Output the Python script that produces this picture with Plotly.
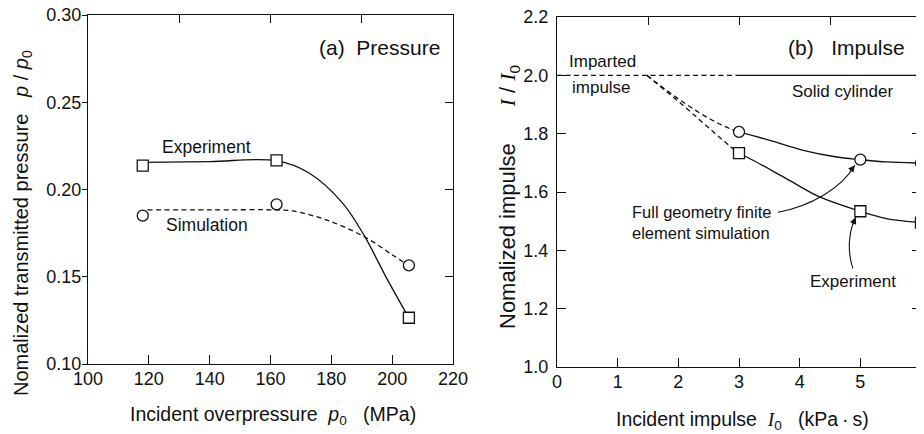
import plotly.graph_objects as go

# ---------------- data: panel (a) pressure ----------------
p0_points = [118, 162, 205.5]
exp_pressure = [0.2137, 0.2167, 0.1265]
sim_pressure = [0.185, 0.1915, 0.1565]

exp_fit_x = [118, 140, 162, 172.8, 183.7, 191.1, 197.9, 205.3]
exp_fit_y = [0.2155, 0.2160, 0.2165, 0.2093, 0.1922, 0.1727, 0.1501, 0.1270]
sim_fit_x = [119.5, 140, 162, 167.2, 178.3, 191.1, 200.1, 205.3]
sim_fit_y = [0.1883, 0.1883, 0.1883, 0.1877, 0.1826, 0.1727, 0.1625, 0.1566]

# ---------------- data: panel (b) impulse ----------------
i0_points = [3, 5, 6]
sim_impulse = [1.806, 1.711, 1.699]
exp_impulse = [1.733, 1.534, 1.495]

imparted_x = [0, 3]
imparted_y = [2.0, 2.0]
solid_x = [3, 6]
solid_y = [2.0, 2.0]

sim_dash_x = [1.48, 2.1, 2.5, 2.85, 3.0]
sim_dash_y = [2.0, 1.905, 1.853, 1.817, 1.806]
exp_dash_x = [1.48, 2.1, 2.5, 2.85, 3.0]
exp_dash_y = [2.0, 1.893, 1.82, 1.757, 1.733]

sim_solid_x = [3, 3.51, 4.06, 4.61, 5, 5.43, 6]
sim_solid_y = [1.806, 1.777, 1.743, 1.720, 1.711, 1.703, 1.699]
exp_solid_x = [3, 3.23, 3.78, 4.33, 5, 5.43, 6]
exp_solid_y = [1.733, 1.709, 1.646, 1.583, 1.534, 1.509, 1.495]

FONT = "Liberation Sans, Arial, sans-serif"
BLACK = "#111111"

# the page body has an 8 px margin, so the figure is sized to fill the rest of the window
OX, OY = 8, 8
W, H = 924 - OX, 434 - OY


def px(sx):
    return (sx - OX) / W


def py(sy):
    return 1 - (sy - OY) / H


fig = go.Figure()

line_solid = dict(color=BLACK, width=1.3)
line_dash = dict(color=BLACK, width=1.3, dash="5px,3.5px")
mk_sq = dict(symbol="square", size=11, color="white", line=dict(color=BLACK, width=1.3))
mk_ci = dict(symbol="circle", size=11, color="white", line=dict(color=BLACK, width=1.3))

# panel (a)
fig.add_trace(go.Scatter(x=exp_fit_x, y=exp_fit_y, mode="lines", line=line_solid,
                         line_shape="spline", xaxis="x", yaxis="y", showlegend=False, hoverinfo="skip"))
fig.add_trace(go.Scatter(x=sim_fit_x, y=sim_fit_y, mode="lines", line=line_dash,
                         line_shape="spline", xaxis="x", yaxis="y", showlegend=False, hoverinfo="skip"))
fig.add_trace(go.Scatter(x=p0_points, y=exp_pressure, mode="markers", marker=mk_sq,
                         xaxis="x", yaxis="y", showlegend=False, cliponaxis=False))
fig.add_trace(go.Scatter(x=p0_points, y=sim_pressure, mode="markers", marker=mk_ci,
                         xaxis="x", yaxis="y", showlegend=False, cliponaxis=False))

# panel (b)
fig.add_trace(go.Scatter(x=imparted_x, y=imparted_y, mode="lines", line=line_dash,
                         xaxis="x2", yaxis="y2", showlegend=False, hoverinfo="skip"))
fig.add_trace(go.Scatter(x=solid_x, y=solid_y, mode="lines", line=line_solid,
                         xaxis="x2", yaxis="y2", showlegend=False, hoverinfo="skip"))
fig.add_trace(go.Scatter(x=sim_dash_x, y=sim_dash_y, mode="lines", line=line_dash, line_shape="spline",
                         xaxis="x2", yaxis="y2", showlegend=False, hoverinfo="skip"))
fig.add_trace(go.Scatter(x=exp_dash_x, y=exp_dash_y, mode="lines", line=line_dash, line_shape="spline",
                         xaxis="x2", yaxis="y2", showlegend=False, hoverinfo="skip"))
fig.add_trace(go.Scatter(x=sim_solid_x, y=sim_solid_y, mode="lines", line=line_solid, line_shape="spline",
                         xaxis="x2", yaxis="y2", showlegend=False, hoverinfo="skip", cliponaxis=False))
fig.add_trace(go.Scatter(x=exp_solid_x, y=exp_solid_y, mode="lines", line=line_solid, line_shape="spline",
                         xaxis="x2", yaxis="y2", showlegend=False, hoverinfo="skip", cliponaxis=False))
fig.add_trace(go.Scatter(x=i0_points, y=sim_impulse, mode="markers", marker=mk_ci,
                         xaxis="x2", yaxis="y2", showlegend=False, cliponaxis=False))
fig.add_trace(go.Scatter(x=i0_points, y=exp_impulse, mode="markers", marker=mk_sq,
                         xaxis="x2", yaxis="y2", showlegend=False, cliponaxis=False))

# dummy traces so overlay tick axes render
fig.add_trace(go.Scatter(x=[], y=[], xaxis="x3", yaxis="y", showlegend=False))
fig.add_trace(go.Scatter(x=[], y=[], xaxis="x", yaxis="y3", showlegend=False))
fig.add_trace(go.Scatter(x=[], y=[], xaxis="x4", yaxis="y2", showlegend=False))

dom_a_x = [px(88), px(453)]
dom_a_y = [py(364), py(15)]
dom_b_x = [px(557), px(921)]
dom_b_y = [py(367), py(17)]

tickfont = dict(family=FONT, size=18, color=BLACK)
axline = dict(showline=True, linecolor=BLACK, linewidth=1.3, showgrid=False, zeroline=False,
              automargin=False, ticklabeloverflow="allow")
overlay = dict(tickwidth=1.2, tickcolor=BLACK, showticklabels=False, showline=False,
               showgrid=False, zeroline=False, automargin=False)

fig.update_layout(
    width=W, height=H,
    margin=dict(l=0, r=0, t=0, b=0, autoexpand=False),
    paper_bgcolor="white", plot_bgcolor="white",
    font=dict(family=FONT, color=BLACK),
    showlegend=False,
    xaxis=dict(domain=dom_a_x, anchor="y", range=[100, 220], tickvals=[100, 120, 140, 160, 180, 200, 220],
               ticks="inside", ticklen=9, tickwidth=1.2, tickcolor=BLACK, mirror=True,
               tickfont=tickfont, ticklabelstandoff=-2, **axline),
    yaxis=dict(domain=dom_a_y, anchor="x", range=[0.10, 0.30], tickvals=[0.10, 0.15, 0.20, 0.25, 0.30],
               tickformat=".2f", ticks="outside", ticklen=5, tickwidth=1.2, tickcolor=BLACK, mirror=True,
               tickfont=tickfont, ticklabelstandoff=-3, **axline),
    xaxis3=dict(overlaying="x", anchor="y", side="top", range=[100, 220], tickvals=[130, 160, 190],
                ticks="inside", ticklen=8, **overlay),
    yaxis3=dict(overlaying="y", anchor="x", side="right", range=[0.10, 0.30], tickvals=[0.15, 0.20, 0.25],
                ticks="inside", ticklen=8, **overlay),
    xaxis2=dict(domain=dom_b_x, anchor="y2", range=[0, 6], tickvals=[0, 1, 2, 3, 4, 5, 6],
                ticks="inside", ticklen=9, tickwidth=1.2, tickcolor=BLACK, mirror=True,
                tickfont=tickfont, ticklabelstandoff=-2, **axline),
    yaxis2=dict(domain=dom_b_y, anchor="x2", range=[1.0, 2.2], tickvals=[1.0, 1.2, 1.4, 1.6, 1.8, 2.0, 2.2],
                tickformat=".1f", ticks="inside", ticklen=9, tickwidth=1.2, tickcolor=BLACK, mirror="ticks",
                tickfont=tickfont, ticklabelstandoff=4, **axline),
    xaxis4=dict(overlaying="x2", anchor="y2", side="top", range=[0, 6], tickvals=[1.5, 3, 4.5],
                ticks="inside", ticklen=8, **overlay),
)

ann = []


def txt(text, x, y, xref, yref, size=17, xanchor="center", yanchor="middle", angle=0, align="center"):
    ann.append(dict(text=text, x=x, y=y, xref=xref, yref=yref, showarrow=False,
                    font=dict(family=FONT, size=size, color=BLACK), align=align,
                    xanchor=xanchor, yanchor=yanchor, textangle=angle))


NB = "\u00a0"
# axis titles
txt("Nomalized transmitted pressure" + NB * 3 + "<i>p</i> / <i>p</i><sub>0</sub>",
    px(23), py(223), "paper", "paper", size=20, angle=-90)
txt("Incident overpressure" + NB * 2 + "<i>p</i><sub>0</sub>" + NB * 3 + "(MPa)",
    px(273), py(415), "paper", "paper", size=19.5)
serifI = "<span style=\"font-family:'Liberation Serif', 'Times New Roman', serif\"><i>I</i></span>"
txt("Nomalized impulse" + NB * 6 + serifI + " / " + serifI + "<sub>0</sub>",
    px(509), py(197), "paper", "paper", size=22, angle=-90)
txt("Incident impulse" + NB * 2 + serifI + "<sub>0</sub>" + NB * 3 + "(kPa\u2009\u00b7\u2009s)",
    px(742), py(420), "paper", "paper", size=19.5)

# panel (a) labels
txt("(a)" + NB * 2 + "Pressure", 216.4, 0.2811, "x", "y", size=21, xanchor="right")
txt("Experiment", 139.0, 0.2244, "x", "y", size=17.5)
txt("Simulation", 139.0, 0.1797, "x", "y", size=17.5)

# panel (b) labels
txt("(b)" + NB * 3 + "Impulse", 5.77, 2.096, "x2", "y2", size=21, xanchor="right")
txt("Imparted", 0.165, 2.048, "x2", "y2", size=17, xanchor="left")
txt("impulse", 0.214, 1.959, "x2", "y2", size=17, xanchor="left")
txt("Solid cylinder", 4.71, 1.945, "x2", "y2", size=17)
txt("Full geometry finite<br>element simulation", 1.20, 1.497, "x2", "y2", size=16.5,
    xanchor="left", align="left")
txt("Experiment", 4.88, 1.294, "x2", "y2", size=17)

# curved arrows: bezier bodies plus short arrowheads
fig.add_shape(type="path", xref="x2", yref="y2",
              path="M 3.641,1.5303 C 4.168,1.5509 4.695,1.6126 4.909,1.6915",
              line=dict(color=BLACK, width=1.1))
fig.add_shape(type="path", xref="x2", yref="y2",
              path="M 4.876,1.3383 C 4.778,1.4000 4.811,1.4686 4.926,1.5132",
              line=dict(color=BLACK, width=1.1))
ann.append(dict(x=4.909, y=1.6915, xref="x2", yref="y2", ax=-6, ay=8, axref="pixel", ayref="pixel",
                text="", showarrow=True, arrowhead=2, arrowsize=1.2, arrowwidth=1.1, arrowcolor=BLACK))
ann.append(dict(x=4.926, y=1.5132, xref="x2", yref="y2", ax=-4, ay=9, axref="pixel", ayref="pixel",
                text="", showarrow=True, arrowhead=2, arrowsize=1.2, arrowwidth=1.1, arrowcolor=BLACK))

fig.update_layout(annotations=ann)
fig.write_html("out.html")
